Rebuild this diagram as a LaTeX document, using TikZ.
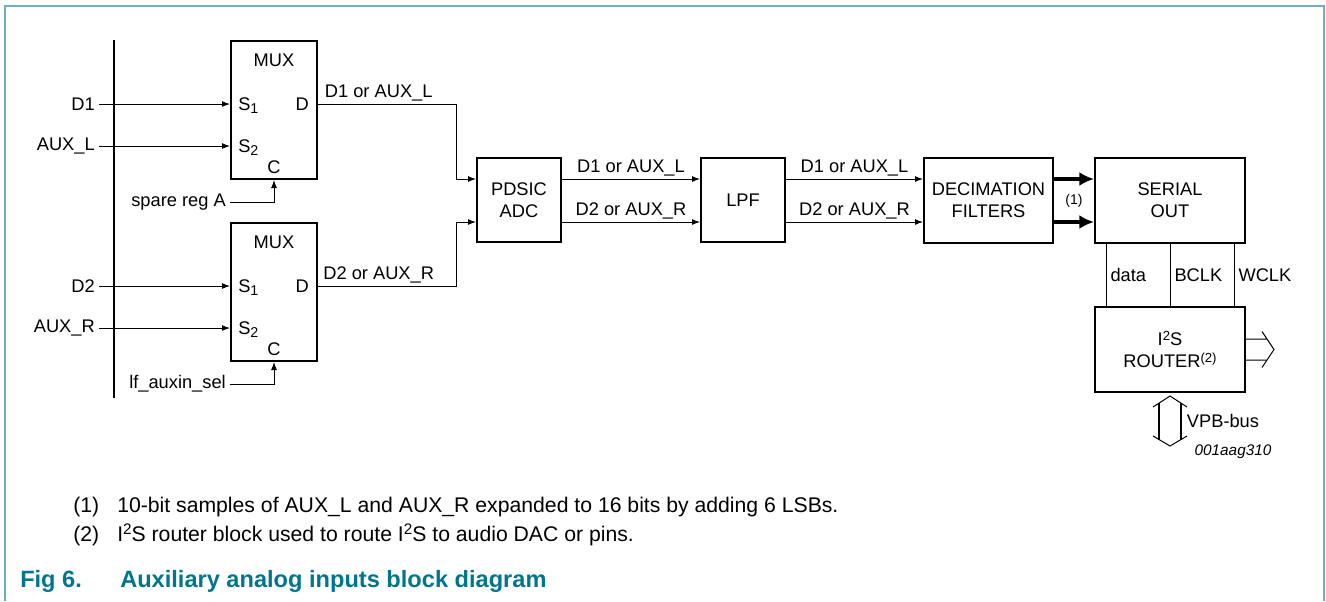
\documentclass[tikz,border=0pt]{standalone}
\usepackage{fontspec}
\usepackage{graphicx}
\setmainfont{Liberation Sans}
\usetikzlibrary{arrows.meta,calc}

\definecolor{framecol}{RGB}{110,175,192}
\definecolor{capcol}{RGB}{0,118,142}

\newcommand{\lowidx}[1]{\raisebox{-0.35ex}{\scalebox{0.78}{#1}}}
\newcommand{\highidx}[1]{\raisebox{0.55ex}{\scalebox{0.72}{#1}}}

\tikzset{
  blk/.style={draw, line width=1.5pt, inner sep=0pt, align=center, font=\fontsize{13.7}{16.5}\selectfont},
  sig/.style={line width=0.75pt},
  arr/.style={sig, -{Latex[length=6pt,width=4.5pt]}},
  fat/.style={line width=3pt, -{Latex[length=11pt,width=10.5pt]}},
  lbl/.style={inner sep=3pt, font=\fontsize{13.7}{16.5}\selectfont},
  note/.style={inner sep=0pt, anchor=base west, font=\fontsize{15.9}{19}\selectfont},
}

\begin{document}
\begin{tikzpicture}[x=0.75pt, y=-0.75pt]
    \useasboundingbox (0,0) rectangle (1326,601);

    % cadre
    \draw[framecol, line width=1.5pt] (5,601) -- (5,5.5) -- (1324,5.5) -- (1324,601);

    % bus d'entree
    \draw[line width=1.5pt] (114,40) -- (114,398);

    % multiplexeur du haut
    \node[blk, minimum width=64.5pt, minimum height=103.5pt] (mux1) at (274,110) {};
    \node[lbl, anchor=base] (mux1t) at (274,66) {MUX};
    \node[lbl, anchor=base west, inner sep=0pt] (mux1s1) at (238,110) {S\lowidx{1}};
    \node[lbl, anchor=base west, inner sep=0pt] (mux1s2) at (238,152) {S\lowidx{2}};
    \node[lbl, anchor=base east, inner sep=0pt] (mux1d) at (309,110) {D};
    \node[lbl, anchor=base, inner sep=0pt] (mux1c) at (274,173) {C};

    % multiplexeur du bas
    \node[blk, minimum width=64.5pt, minimum height=103.5pt] (mux2) at (274,292) {};
    \node[lbl, anchor=base] (mux2t) at (274,248) {MUX};
    \node[lbl, anchor=base west, inner sep=0pt] (mux2s1) at (238,292) {S\lowidx{1}};
    \node[lbl, anchor=base west, inner sep=0pt] (mux2s2) at (238,334) {S\lowidx{2}};
    \node[lbl, anchor=base east, inner sep=0pt] (mux2d) at (309,292) {D};
    \node[lbl, anchor=base, inner sep=0pt] (mux2c) at (274,355) {C};

    % entrees
    \node[lbl, anchor=east] (d1) at (99,104) {D1};
    \node[lbl, anchor=east] (auxl) at (99,146) {AUX\_L};
    \node[lbl, anchor=east] (d2) at (99,286) {D2};
    \node[lbl, anchor=east] (auxr) at (99,328) {AUX\_R};
    \draw[arr] (d1) -- (d1 -| mux1.west);
    \draw[arr] (auxl) -- (auxl -| mux1.west);
    \draw[arr] (d2) -- (d2 -| mux2.west);
    \draw[arr] (auxr) -- (auxr -| mux2.west);

    % selection
    \node[lbl, anchor=east] (spareA) at (230,202) {spare reg A};
    \node[lbl, anchor=east] (lfsel) at (230,384) {lf\_auxin\_sel};
    \draw[arr] (spareA) -| (mux1.south);
    \draw[arr] (lfsel) -| (mux2.south);

    % blocs
    \node[blk, minimum width=63pt, minimum height=63pt] (adc) at (519,200) {PDSIC\\ADC};
    \node[blk, minimum width=63pt, minimum height=63pt] (lpf) at (743,200) {LPF};
    \node[blk, minimum width=96.75pt, minimum height=63.75pt] (dec) at (988.5,200.5) {DECIMATION\\FILTERS};
    \node[blk, minimum width=112.5pt, minimum height=63.75pt] (ser) at (1170,200.5) {SERIAL\\OUT};
    \node[blk, minimum width=112.5pt, minimum height=63.75pt] (i2s) at (1170,349.5) {I\highidx{2}S\\ROUTER\highidx{(2)}};

    % canaux
    \coordinate (chL) at (0,179);
    \coordinate (chR) at (0,222);
    \coordinate (jn) at (456,0);

    \draw[arr] (mux1.east |- d1) -| node[lbl, pos=0.22, above, inner sep=1.5pt] (o1) {D1 or AUX\_L} (jn |- chL) -- (adc.west |- chL);
    \draw[arr] (mux2.east |- d2) -| node[lbl, pos=0.22, above, inner sep=1.5pt] (o2) {D2 or AUX\_R} (jn |- chR) -- (adc.west |- chR);
    \draw[arr] (adc.east |- chL) -- node[lbl, above, inner sep=1.5pt] (a1) {D1 or AUX\_L} (lpf.west |- chL);
    \draw[arr] (adc.east |- chR) -- node[lbl, above, inner sep=1.5pt] (a2) {D2 or AUX\_R} (lpf.west |- chR);
    \draw[arr] (lpf.east |- chL) -- node[lbl, above, inner sep=1.5pt] (f1) {D1 or AUX\_L} (dec.west |- chL);
    \draw[arr] (lpf.east |- chR) -- node[lbl, above, inner sep=1.5pt] (f2) {D2 or AUX\_R} (dec.west |- chR);
    \draw[fat] (dec.east |- chL) -- (ser.west |- chL);
    \draw[fat] (dec.east |- chR) -- (ser.west |- chR);
    \node[font=\fontsize{10.5}{12}\selectfont] (n1) at (1074,201) {(1)};

    % liaisons I2S
    \foreach \dx/\lab in {-64/data, 0/BCLK, 64/WCLK}
      \draw[sig] ($(ser.south)+(\dx,0)$) -- node[lbl, right] (w\lab) {\lab} ($(i2s.north)+(\dx,0)$);

    % sortie
    \draw[sig, shift={(i2s.east)}] (0,-10.5) -- (20,-10.5) (0,10.5) -- (20,10.5)
      (16,-18) -- (28,0) -- (16,18);

    % VPB-bus
    \draw[sig, shift={(i2s.south)}] (-17,14) -- (0,3) -- (17,14)
      (-17,43) -- (0,53) -- (17,43);
    \draw[line width=1.2pt, shift={(i2s.south)}] (-11,10) -- (-11,46.5) (11,10) -- (11,46.5);
    \node[lbl, anchor=west, inner sep=2pt] (vpb) at (1184,421) {VPB-bus};
    \node[font=\fontsize{11.5}{14}\selectfont\itshape, inner sep=0pt] (code) at (1233,452) {001aag310};

    % notes
    \node[note] (fn1) at (73,512) {(1)};
    \node[note] (ft1) at (117,512) {10-bit samples of AUX\_L and AUX\_R expanded to 16 bits by adding 6 LSBs.};
    \node[note] (fn2) at (73,541) {(2)};
    \node[note] (ft2) at (117,541) {I\highidx{2}S router block used to route I\highidx{2}S to audio DAC or pins.};
    \node[note, font=\fontsize{17.7}{21}\selectfont\bfseries, text=capcol] (fig) at (20,587) {Fig 6.};
    \node[note, font=\fontsize{17.7}{21}\selectfont\bfseries, text=capcol] (cap) at (120,587) {Auxiliary analog inputs block diagram};

\end{tikzpicture}
\end{document}
